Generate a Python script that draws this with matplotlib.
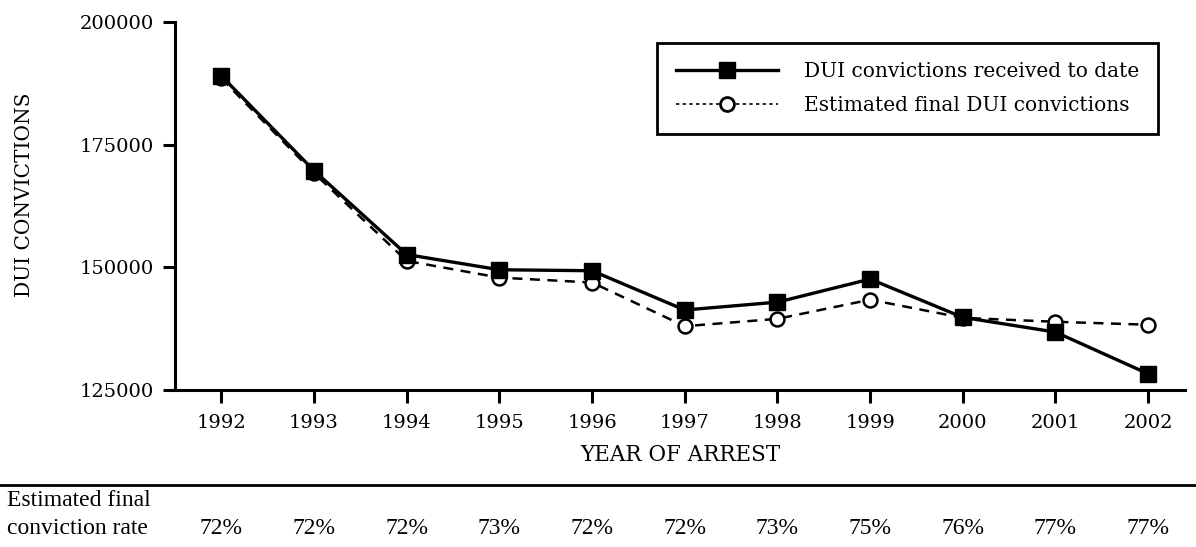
import matplotlib.pyplot as plt
from matplotlib.transforms import blended_transform_factory
from matplotlib.lines import Line2D

plt.rcParams['font.family'] = ['DejaVu Serif']

years = [1992, 1993, 1994, 1995, 1996, 1997, 1998, 1999, 2000, 2001, 2002]
received = [189000, 169700, 152600, 149500, 149300, 141300, 142900, 147600, 139800, 136800, 128300]
estimated = [188500, 169200, 151300, 147900, 146900, 138000, 139500, 143400, 139700, 138900, 138300]
rates = ["72%", "72%", "72%", "73%", "72%", "72%", "73%", "75%", "76%", "77%", "77%"]

fig = plt.figure(figsize=(11.96, 5.47), dpi=100)
ax = fig.add_axes([0.1463, 0.287, 0.8447, 0.673])

ax.plot(years, estimated, color="black", lw=1.8, ls=(0, (4, 3)), marker="o",
        markersize=10, markerfacecolor="white", markeredgecolor="black",
        markeredgewidth=1.8, zorder=2)
ax.plot(years, received, color="black", lw=2.4, marker="s", markersize=12,
        markerfacecolor="black", markeredgecolor="black", zorder=3)

ax.set_xlim(1991.5, 2002.4)
ax.set_ylim(125000, 200000)
ax.set_yticks([125000, 150000, 175000, 200000])
ax.set_xticks(years)
ax.set_xticklabels([str(y) for y in years])
for s in ["top", "right"]:
    ax.spines[s].set_visible(False)
for s in ["left", "bottom"]:
    ax.spines[s].set_linewidth(2.2)
ax.tick_params(axis="both", direction="out", length=9, width=2.2, labelsize=14, pad=6)
ax.tick_params(axis="x", pad=8)
ax.set_ylabel("DUI CONVICTIONS", fontsize=14.5)
ax.yaxis.set_label_coords(-0.14, 0.53)
ax.set_xlabel("YEAR OF ARREST", fontsize=15.5, labelpad=9)

handles = [
    Line2D([], [], color="black", lw=2.4, marker="s", markersize=12),
    Line2D([], [], color="black", lw=1.2, ls=(0, (2, 2)), marker="o", markersize=10,
           markerfacecolor="white", markeredgewidth=2),
]
leg = ax.legend(handles, ["DUI convictions received to date", "Estimated final DUI convictions"],
                loc="upper right", bbox_to_anchor=(0.983, 0.971), fontsize=14.5, handlelength=5.1,
                fancybox=False, framealpha=1, edgecolor="black", borderpad=0.95,
                labelspacing=0.75, handletextpad=1.25)
leg.get_frame().set_linewidth(2.0)

# conviction-rate row below the chart
fig.add_artist(Line2D([0, 1], [1 - 485 / 547, 1 - 485 / 547], color="black", lw=2))
trans = blended_transform_factory(ax.transData, fig.transFigure)
row = dict(family="Liberation Serif", fontsize=17, va="center")
fig.text(0.006, 1 - 500 / 547, "Estimated final", ha="left", **row)
fig.text(0.006, 1 - 528 / 547, "conviction rate", ha="left", **row)
for y, r in zip(years, rates):
    ax.text(y, 1 - 528 / 547, r, transform=trans, ha="center", **row)

fig.savefig("out.png", dpi=100)
